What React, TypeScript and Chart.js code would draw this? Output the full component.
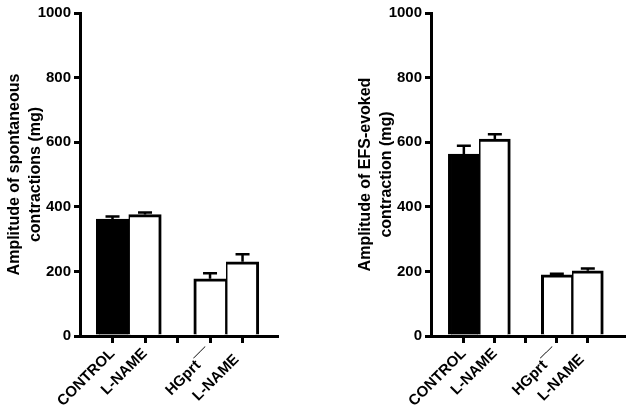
import React, { useEffect, useRef } from "react";
import { Chart, registerables } from "chart.js";

Chart.register(...registerables);

const categories = ["CONTROL", "L-NAME", "", "HGprt\u00AF\u00AF", "L-NAME\u00A0\u00A0"];
const barFills = ["#000000", "#ffffff", "#ffffff", "#ffffff", "#ffffff"];

const spontTitle = ["Amplitude of spontaneous", "contractions (mg)"];
const spontValues: (number | null)[] = [362, 376, null, 177, 230];
const spontErrors: (number | null)[] = [8, 6, null, 17, 23];

const efsTitle = ["Amplitude of EFS-evoked", "contraction (mg)"];
const efsValues: (number | null)[] = [563, 610, null, 189, 202];
const efsErrors: (number | null)[] = [26, 15, null, 4, 7];

const yTicks = [0, 200, 400, 600, 800, 1000];

const FONT = 'Arial, "Liberation Sans", sans-serif';

const errorBarPlugin = {
  id: "errorBars",
  afterDatasetsDraw(chart: any) {
    const errs: (number | null)[] = chart.options.plugins.errorBars.errors;
    const meta = chart.getDatasetMeta(0);
    const ys = chart.scales.y;
    const ctx = chart.ctx;
    ctx.save();
    ctx.strokeStyle = "#000";
    ctx.lineWidth = 2.5;
    meta.data.forEach((el: any, i: number) => {
      const raw = chart.data.datasets[0].data[i];
      const e = errs[raw.idx];
      if (e == null) return;
      const top = ys.getPixelForValue(raw.y + e);
      ctx.beginPath();
      ctx.moveTo(el.x, el.y);
      ctx.lineTo(el.x, top);
      ctx.moveTo(el.x - 7, top);
      ctx.lineTo(el.x + 7, top);
      ctx.stroke();
    });
    ctx.restore();
  },
};

function makeConfig(
  values: (number | null)[],
  errors: (number | null)[],
  title: string[],
  xMin: number,
  xMax: number,
  padRight: number
): any {
  const pts: any[] = [];
  values.forEach((v, i) => {
    if (v != null) pts.push({ x: i + 1, y: v, idx: i });
  });
  const bw = pts.map((p) => {
    const hasLeft = p.idx - 1 >= 0 && values[p.idx - 1] != null;
    const hasRight = p.idx + 1 < values.length && values[p.idx + 1] != null;
    return {
      top: 3,
      bottom: 0,
      left: hasLeft ? 1.5 : 3,
      right: hasRight ? 1.5 : 3,
    };
  });
  return {
    type: "bar",
    data: {
      datasets: [
        {
          data: pts,
          backgroundColor: pts.map((p) => barFills[p.idx]),
          borderColor: "#000",
          borderWidth: bw,
          borderSkipped: "start",
          barPercentage: 1,
          categoryPercentage: 1,
        },
      ],
    },
    plugins: [errorBarPlugin],
    options: {
      responsive: false,
      animation: false,
      layout: { padding: { left: 0, top: 13, right: padRight, bottom: 0 } },
      plugins: {
        legend: { display: false },
        tooltip: { enabled: false },
        errorBars: { errors },
      },
      scales: {
        x: {
          type: "linear",
          min: xMin,
          max: xMax,
          offset: false,
          afterBuildTicks(scale: any) {
            scale.ticks = categories.map((_, i) => ({ value: i + 1 }));
          },
          afterFit(scale: any) {
            scale.height = 76;
            scale.paddingLeft = 0;
            scale.paddingRight = 0;
          },
          ticks: {
            autoSkip: false,
            minRotation: 45,
            maxRotation: 45,
            padding: 2,
            color: "#000",
            font: { family: FONT, size: 15, weight: "bold" },
            callback: (v: number) => categories[v - 1] ?? "",
          },
          grid: {
            offset: false,
            drawOnChartArea: false,
            drawTicks: true,
            tickLength: 7,
            lineWidth: 3,
            color: "#000",
          },
          border: { display: true, width: 3, color: "#000" },
        },
        y: {
          min: 0,
          max: 1000,
          afterBuildTicks(scale: any) {
            scale.ticks = yTicks.map((v) => ({ value: v }));
          },
          afterFit(scale: any) {
            scale.width = 80;
            scale.paddingTop = 0;
            scale.paddingBottom = 0;
          },
          ticks: {
            padding: 3,
            color: "#000",
            font: { family: FONT, size: 15, weight: "bold" },
            callback: (v: number) => String(v),
          },
          grid: {
            drawOnChartArea: false,
            drawTicks: true,
            tickLength: 6,
            lineWidth: 3,
            color: "#000",
          },
          border: { display: true, width: 3, color: "#000" },
          title: {
            display: true,
            text: title,
            color: "#000",
            font: { family: FONT, size: 16, weight: "bold", lineHeight: 1.3 },
            padding: { top: 4, bottom: 0 },
          },
        },
      },
    },
  };
}

export default function App() {
  const leftRef = useRef<HTMLCanvasElement>(null);
  const rightRef = useRef<HTMLCanvasElement>(null);

  useEffect(() => {
    const c1 = new Chart(
      leftRef.current as HTMLCanvasElement,
      makeConfig(spontValues, spontErrors, spontTitle, 0, 6.06, 23)
    );
    const c2 = new Chart(
      rightRef.current as HTMLCanvasElement,
      makeConfig(efsValues, efsErrors, efsTitle, -0.06, 6.2, 1)
    );
    return () => {
      c1.destroy();
      c2.destroy();
    };
  }, []);

  return (
    <div
      style={{
        position: "absolute",
        left: 0,
        top: 0,
        width: 626,
        height: 412,
        background: "#fff",
        overflow: "hidden",
      }}
    >
      <canvas
        ref={leftRef}
        width={300}
        height={412}
        style={{ position: "absolute", left: 0, top: 0, width: 300, height: 412 }}
      />
      <canvas
        ref={rightRef}
        width={275}
        height={412}
        style={{ position: "absolute", left: 351, top: 0, width: 275, height: 412 }}
      />
    </div>
  );
}
